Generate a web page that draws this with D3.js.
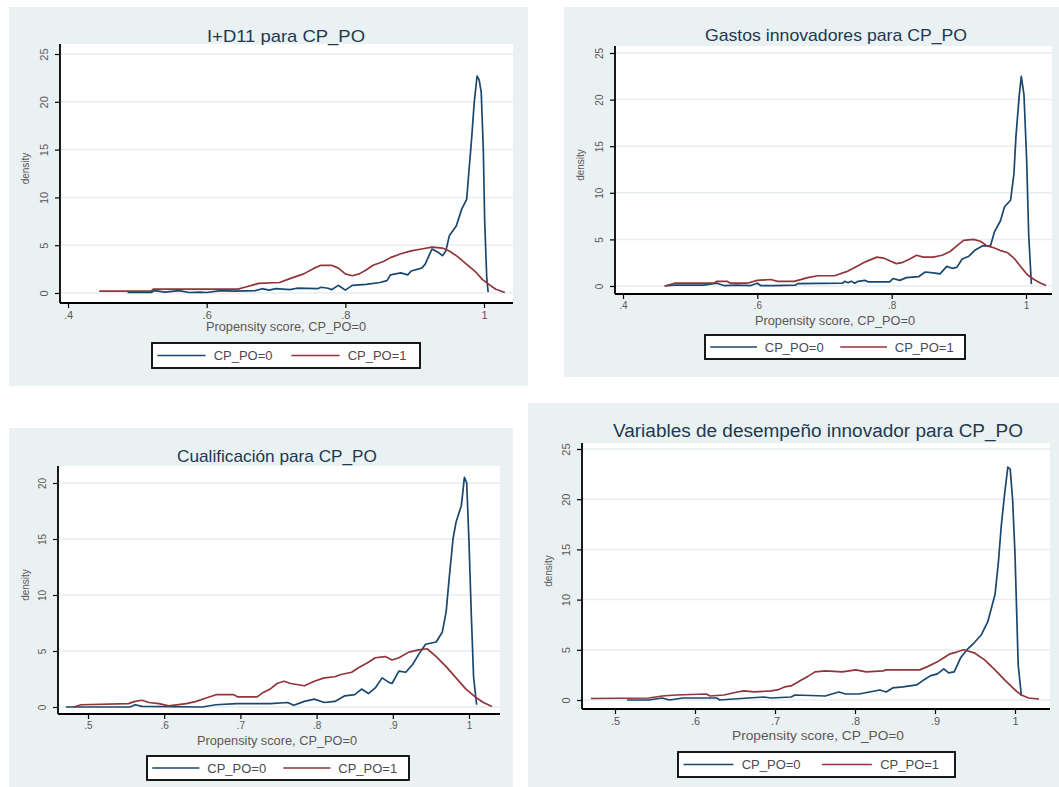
<!DOCTYPE html>
<html>
<head>
<meta charset="utf-8">
<script src="https://cdn.jsdelivr.net/npm/d3@7"></script>
<style>
  body { margin: 0; background: #fff; }
  svg { display: block; }
  text { font-family: "Liberation Sans", Arial, sans-serif; }
</style>
</head>
<body>
<svg id="chart" width="1059" height="787"></svg>
<script>
// ---- data ----
const seriesNames = ['CP_PO=0', 'CP_PO=1']
const titles = [
    'I+D11 para CP_PO',
    'Gastos innovadores para CP_PO',
    'Cualificación para CP_PO',
    'Variables de desempeño innovador para CP_PO'
]
const xTitle = 'Propensity score, CP_PO=0'
const yTitle = 'density'
const xTicksWide = [0.4, 0.6, 0.8, 1]
const xTicksNarrow = [0.5, 0.6, 0.7, 0.8, 0.9, 1]
const yTicks25 = [0, 5, 10, 15, 20, 25]
const yTicks20 = [0, 5, 10, 15, 20]

// kernel density of propensity score, [score, density]
const idPO0 = [[0.486,0.05],[0.52,0.05],[0.525,0.25],[0.54,0.1],[0.56,0.25],[0.575,0.05],[0.59,0.1],[0.6,0.05],[0.62,0.25],[0.64,0.2],[0.67,0.25],[0.68,0.45],[0.69,0.3],[0.7,0.45],[0.72,0.35],[0.73,0.5],[0.76,0.45],[0.765,0.6],[0.775,0.5],[0.78,0.35],[0.79,0.8],[0.795,0.55],[0.8,0.3],[0.81,0.8],[0.83,0.9],[0.85,1.1],[0.86,1.3],[0.865,1.9],[0.88,2.1],[0.89,1.9],[0.895,2.3],[0.91,2.6],[0.915,3.0],[0.925,4.6],[0.935,4.2],[0.94,3.9],[0.945,4.4],[0.95,6.0],[0.96,7.0],[0.968,8.8],[0.975,9.8],[0.978,12.5],[0.982,16],[0.986,20],[0.99,22.7],[0.993,22.3],[0.996,21],[0.999,15],[1.001,7.5],[1.004,1.5],[1.006,0.1]]
const idPO1 = [[0.445,0.2],[0.52,0.2],[0.523,0.4],[0.645,0.4],[0.655,0.6],[0.67,0.9],[0.675,1.0],[0.705,1.1],[0.72,1.5],[0.74,2.0],[0.755,2.6],[0.765,2.9],[0.78,2.9],[0.79,2.6],[0.8,2.0],[0.81,1.8],[0.82,2.0],[0.83,2.4],[0.84,2.9],[0.855,3.3],[0.865,3.7],[0.88,4.1],[0.895,4.4],[0.91,4.6],[0.925,4.8],[0.94,4.7],[0.95,4.4],[0.962,3.8],[0.975,3.0],[0.988,2.2],[0.998,1.4],[1.007,0.9],[1.017,0.4],[1.03,0.05]]

const gastosPO0 = [[0.462,0.0],[0.475,0.1],[0.52,0.1],[0.54,0.3],[0.55,0.05],[0.57,0.1],[0.59,0.05],[0.6,0.3],[0.605,0.05],[0.625,0.05],[0.657,0.1],[0.66,0.25],[0.727,0.3],[0.73,0.5],[0.735,0.35],[0.74,0.5],[0.745,0.3],[0.75,0.5],[0.76,0.6],[0.765,0.45],[0.797,0.45],[0.802,0.8],[0.812,0.6],[0.822,0.9],[0.84,1.0],[0.85,1.5],[0.862,1.4],[0.872,1.3],[0.882,2.1],[0.89,1.9],[0.897,2.0],[0.905,2.9],[0.915,3.2],[0.925,3.9],[0.935,4.3],[0.947,4.3],[0.953,5.8],[0.962,7.0],[0.968,8.5],[0.977,9.2],[0.982,12],[0.985,16],[0.99,20.5],[0.993,22.5],[0.997,20.5],[1.001,13.5],[1.004,5.5],[1.008,0.2]]
const gastosPO1 = [[0.462,0.0],[0.477,0.3],[0.535,0.3],[0.54,0.5],[0.555,0.5],[0.56,0.3],[0.585,0.3],[0.6,0.6],[0.62,0.7],[0.63,0.5],[0.655,0.5],[0.675,0.9],[0.69,1.1],[0.715,1.1],[0.735,1.6],[0.748,2.1],[0.758,2.5],[0.768,2.8],[0.778,3.1],[0.788,3.0],[0.797,2.7],[0.807,2.4],[0.815,2.5],[0.827,2.9],[0.837,3.3],[0.847,3.1],[0.862,3.1],[0.875,3.3],[0.887,3.7],[0.897,4.3],[0.907,4.9],[0.922,5.0],[0.932,4.8],[0.942,4.3],[0.952,4.1],[0.962,3.8],[0.972,3.6],[0.982,3.0],[0.992,2.1],[1.002,1.2],[1.012,0.7],[1.022,0.3],[1.03,0.05]]

const cualifPO0 = [[0.471,0.0],[0.555,0.0],[0.562,0.2],[0.571,0.05],[0.65,0.0],[0.668,0.2],[0.695,0.3],[0.722,0.3],[0.739,0.3],[0.762,0.4],[0.77,0.15],[0.784,0.5],[0.797,0.7],[0.81,0.4],[0.824,0.5],[0.837,1.0],[0.85,1.1],[0.859,1.6],[0.868,1.2],[0.877,1.7],[0.886,2.6],[0.895,2.2],[0.899,2.1],[0.908,3.2],[0.917,3.1],[0.926,3.8],[0.934,4.7],[0.943,5.6],[0.957,5.8],[0.965,6.7],[0.97,8.5],[0.974,11.5],[0.979,15],[0.983,16.5],[0.99,18],[0.994,20.5],[0.997,20.0],[1.0,14.7],[1.003,8.3],[1.006,2.7],[1.01,0.2]]
const cualifPO1 = [[0.481,0.0],[0.491,0.2],[0.553,0.3],[0.562,0.5],[0.571,0.6],[0.58,0.4],[0.593,0.3],[0.606,0.1],[0.629,0.3],[0.642,0.5],[0.655,0.8],[0.668,1.1],[0.691,1.1],[0.697,0.9],[0.722,0.9],[0.73,1.3],[0.739,1.6],[0.748,2.1],[0.757,2.3],[0.766,2.1],[0.784,1.9],[0.797,2.3],[0.81,2.6],[0.824,2.7],[0.832,2.9],[0.846,3.1],[0.855,3.5],[0.868,4.0],[0.877,4.4],[0.89,4.5],[0.899,4.2],[0.908,4.4],[0.921,4.9],[0.934,5.1],[0.945,5.2],[0.957,4.5],[0.97,3.6],[0.983,2.6],[0.996,1.6],[1.01,0.8],[1.019,0.4],[1.03,0.05]]

const desempPO0 = [[0.515,0.0],[0.542,0.0],[0.559,0.2],[0.568,0.0],[0.585,0.2],[0.627,0.2],[0.631,0.0],[0.648,0.1],[0.686,0.3],[0.695,0.2],[0.72,0.3],[0.725,0.5],[0.763,0.4],[0.771,0.6],[0.78,0.8],[0.788,0.6],[0.805,0.6],[0.818,0.8],[0.831,1.0],[0.839,0.8],[0.847,1.2],[0.86,1.3],[0.877,1.5],[0.886,2.0],[0.894,2.4],[0.903,2.6],[0.911,3.1],[0.917,2.7],[0.924,2.8],[0.932,4.2],[0.941,5.1],[0.949,5.7],[0.958,6.5],[0.966,7.8],[0.975,10.5],[0.979,13.5],[0.983,17.5],[0.987,20.5],[0.991,23.2],[0.994,23.0],[0.997,20.0],[1.0,14.5],[1.002,9.0],[1.004,3.5],[1.008,0.4]]
const desempPO1 = [[0.47,0.15],[0.542,0.2],[0.551,0.3],[0.559,0.4],[0.576,0.5],[0.614,0.6],[0.619,0.4],[0.636,0.5],[0.653,0.8],[0.661,0.9],[0.674,0.8],[0.695,0.9],[0.703,1.0],[0.712,1.3],[0.72,1.4],[0.733,2.0],[0.742,2.4],[0.75,2.8],[0.763,2.9],[0.784,2.8],[0.801,3.0],[0.814,2.8],[0.835,2.9],[0.839,3.0],[0.881,3.0],[0.89,3.3],[0.903,3.8],[0.911,4.2],[0.919,4.6],[0.928,4.8],[0.936,5.0],[0.949,4.7],[0.962,4.0],[0.975,3.0],[0.987,2.0],[1.0,1.0],[1.008,0.5],[1.017,0.2],[1.03,0.1]]

// ---- look ----
const colors = ['#1a476f', '#90353b']
const bgColor = '#e9f1f3'
const gridColor = '#e6eef1'
const tickColor = '#5f5656'
const titleColor = '#23384f'

// pixel layout of each panel (bg box, axis lines, tick anchors, text spots)
const panels = [
    { title: titles[0], series: [idPO0, idPO1], xTicks: xTicksWide, yTicks: yTicks25,
      bg: [9, 7, 528, 386], axisX: 60, axisY: 303, top: 44, right: 513,
      xr: [68, 484], yr: [293, 54], titleXY: [286, 42], titleW: 158, xlabXY: [286, 331], xlabW: 160,
      legend: [152, 343, 420, 368], ylabX: 29, tickFont: 11, titleFont: 17 },
    { title: titles[1], series: [gastosPO0, gastosPO1], xTicks: xTicksWide, yTicks: yTicks25,
      bg: [564, 7, 1059, 377], axisX: 615, axisY: 294, top: 46, right: 1052,
      xr: [623, 1026], yr: [286, 53], titleXY: [836, 41], titleW: 262, xlabXY: [835, 325], xlabW: 160,
      legend: [705, 335, 965, 359], ylabX: 584, tickFont: 10, titleFont: 17 },
    { title: titles[2], series: [cualifPO0, cualifPO1], xTicks: xTicksNarrow, yTicks: yTicks20,
      bg: [9, 428, 513, 787], axisX: 58, axisY: 714, top: 466, right: 500,
      xr: [88, 469], yr: [707, 483], titleXY: [277, 462], titleW: 200, xlabXY: [277, 745], xlabW: 160,
      legend: [147, 756, 409, 780], ylabX: 29, tickFont: 10, titleFont: 17 },
    { title: titles[3], series: [desempPO0, desempPO1], xTicks: xTicksNarrow, yTicks: yTicks25,
      bg: [528, 403, 1059, 787], axisX: 582, axisY: 709, top: 443, right: 1050,
      xr: [615, 1015], yr: [700, 449], titleXY: [818, 437], titleW: 410, xlabXY: [818, 740], xlabW: 172,
      legend: [678, 752, 955, 777], ylabX: 552, tickFont: 11, titleFont: 18 }
]

const fmtX = v => v === 1 ? '1' : d3.format('.1f')(v).replace(/^0/, '')

function drawPanel(svg, p) {
    const g = svg.append('g')
    // graph region + plot region
    g.append('rect')
        .attr('x', p.bg[0]).attr('y', p.bg[1])
        .attr('width', p.bg[2] - p.bg[0]).attr('height', p.bg[3] - p.bg[1])
        .attr('fill', bgColor)
    g.append('rect')
        .attr('x', p.axisX).attr('y', p.top)
        .attr('width', p.right - p.axisX).attr('height', p.axisY - p.top)
        .attr('fill', '#fff')

    const x = d3.scaleLinear().domain([p.xTicks[0], 1]).range(p.xr)
    const y = d3.scaleLinear().domain([0, d3.max(p.yTicks)]).range(p.yr)

    // grid lines
    g.append('g').selectAll('line')
        .data(p.yTicks)
        .join('line')
        .attr('x1', p.axisX).attr('x2', p.right)
        .attr('y1', d => y(d)).attr('y2', d => y(d))
        .attr('stroke', gridColor).attr('stroke-width', 1.5)

    // density curves
    const line = d3.line().x(d => x(d[0])).y(d => y(d[1]))
    g.append('g').selectAll('path')
        .data(p.series)
        .join('path')
        .attr('d', line)
        .attr('fill', 'none')
        .attr('stroke', (d, i) => colors[i])
        .attr('stroke-width', 1.7)
        .attr('stroke-linejoin', 'round')

    // axes
    const xAxis = g.append('g')
        .attr('transform', `translate(0,${p.axisY})`)
        .call(d3.axisBottom(x).tickValues(p.xTicks).tickFormat(fmtX).tickSize(5).tickSizeOuter(0))
    const yAxis = g.append('g')
        .attr('transform', `translate(${p.axisX},0)`)
        .call(d3.axisLeft(y).tickValues(p.yTicks).tickSize(5).tickSizeOuter(0))
    for (const a of [xAxis, yAxis]) {
        a.select('.domain').remove()
        a.selectAll('.tick line').attr('stroke', '#000').attr('stroke-width', 1.2)
        a.selectAll('text').attr('fill', tickColor).style('font-size', p.tickFont + 'px')
    }
    xAxis.selectAll('text').attr('y', 8)
    yAxis.selectAll('text')
        .attr('transform', 'rotate(-90)')
        .attr('x', 0).attr('y', -12).attr('dy', 0)
        .attr('text-anchor', 'middle')

    // axis lines
    g.append('line')
        .attr('x1', p.axisX).attr('x2', p.right)
        .attr('y1', p.axisY).attr('y2', p.axisY)
        .attr('stroke', '#000').attr('stroke-width', 1.8)
    g.append('line')
        .attr('x1', p.axisX).attr('x2', p.axisX)
        .attr('y1', p.top).attr('y2', p.axisY)
        .attr('stroke', '#000').attr('stroke-width', 1.8)

    // titles
    g.append('text')
        .attr('x', p.titleXY[0]).attr('y', p.titleXY[1])
        .attr('text-anchor', 'middle')
        .attr('textLength', p.titleW).attr('lengthAdjust', 'spacingAndGlyphs')
        .attr('fill', titleColor)
        .style('font-size', p.titleFont + 'px')
        .text(p.title)
    g.append('text')
        .attr('x', p.xlabXY[0]).attr('y', p.xlabXY[1])
        .attr('text-anchor', 'middle')
        .attr('textLength', p.xlabW).attr('lengthAdjust', 'spacingAndGlyphs')
        .attr('fill', tickColor)
        .style('font-size', '12px')
        .text(xTitle)
    g.append('text')
        .attr('transform', `translate(${p.ylabX},${(p.top + p.axisY) / 2 - 5}) rotate(-90)`)
        .attr('text-anchor', 'middle')
        .attr('fill', tickColor)
        .style('font-size', '10px')
        .text(yTitle)

    // legend
    const [lx0, ly0, lx1, ly1] = p.legend
    const lw = lx1 - lx0, lm = (ly0 + ly1) / 2
    g.append('rect')
        .attr('x', lx0).attr('y', ly0).attr('width', lw).attr('height', ly1 - ly0)
        .attr('fill', '#fff').attr('stroke', '#000').attr('stroke-width', 1.8)
    const items = g.append('g').selectAll('g')
        .data(seriesNames)
        .join('g')
        .attr('transform', (d, i) => `translate(${lx0 + (i === 0 ? 0.02 : 0.52) * lw},${lm})`)
    items.append('line')
        .attr('x1', 0).attr('x2', 0.18 * lw)
        .attr('stroke', (d, i) => colors[i]).attr('stroke-width', 1.7)
    items.append('text')
        .attr('x', 0.21 * lw).attr('y', 4.5)
        .attr('fill', '#4a4a55')
        .style('font-size', '13px')
        .text(d => d)
}

const svg = d3.select('#chart')
panels.forEach(p => drawPanel(svg, p))
</script>
</body>
</html>
